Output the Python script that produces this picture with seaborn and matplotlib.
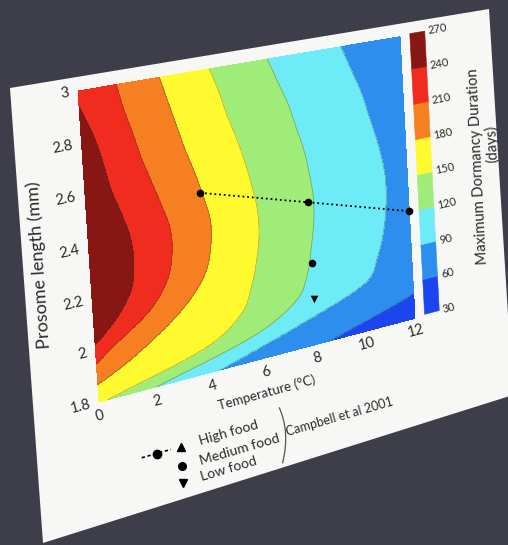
import numpy as np
import matplotlib
matplotlib.use("Agg")
import matplotlib.pyplot as plt
import matplotlib.transforms as mtransforms
import matplotlib.collections as mcoll
from matplotlib.patches import Polygon, PathPatch
from matplotlib.path import Path
from matplotlib.lines import Line2D
import seaborn as sns

# ---------------- data ----------------
levels = [30, 60, 90, 120, 150, 180, 210, 240, 270]
band_colors = ["#1c44ef", "#2e8eee", "#6decf7", "#a0ec78",
               "#fffa30", "#f67f22", "#f02c1f", "#881612"]

lengths = [1.8, 1.9, 2.0, 2.1, 2.2, 2.3, 2.4, 2.5, 2.6, 2.7, 2.8, 2.9, 3.0]
# temperature (deg C) where the dormancy duration crosses 270, 240, ..., 30 days,
# one row per prosome length
crossing_T = [
    [-6.0, -4.5, -3.0, -1.5, 0.3, 2.0, 4.3, 8.5, 14.0],
    [-4.0, -2.2, -0.7, 0.6, 3.8, 5.6, 7.4, 11.8, 16.0],
    [-2.5, -0.3, 0.6, 2.15, 5.2, 7.3, 10.0, 14.0, 18.0],
    [-1.6, 0.75, 1.9, 3.3, 5.65, 7.8, 10.6, 15.0, 19.0],
    [-1.2, 1.35, 2.6, 4.0, 5.9, 8.0, 10.9, 15.5, 20.0],
    [-1.0, 1.5, 2.85, 4.25, 6.05, 8.15, 11.05, 15.8, 20.0],
    [-1.0, 1.45, 2.85, 4.3, 6.05, 8.2, 11.1, 15.8, 20.0],
    [-1.1, 1.2, 2.6, 4.1, 5.9, 8.1, 11.0, 15.5, 20.0],
    [-1.2, 0.9, 2.3, 3.85, 5.7, 7.95, 10.8, 15.0, 19.5],
    [-1.4, 0.7, 2.0, 3.55, 5.45, 7.7, 10.55, 14.5, 19.0],
    [-1.7, 0.48, 1.76, 3.3, 5.15, 7.45, 10.3, 14.0, 18.5],
    [-2.0, 0.15, 1.5, 3.05, 4.9, 7.1, 9.95, 13.5, 18.0],
    [-2.4, -0.2, 1.3, 2.8, 4.6, 6.75, 9.6, 13.0, 17.5],
]
temperature = np.linspace(0, 12, 241)

high_T = [4, 8, 12]
high_L = [2.52, 2.39, 2.26]
medium_T = [8]
medium_L = [2.14]
low_T = [8]
low_L = [1.99]

x_ticks = [0, 2, 4, 6, 8, 10, 12]
y_ticks = [1.8, 2.0, 2.2, 2.4, 2.6, 2.8, 3.0]

legend_labels = ["High food", "Medium food", "Low food"]
source_label = "Campbell et al 2001"

# ---------------- style ----------------
sns.set_theme(style="white")
plt.rcParams["font.family"] = ["Lato", "DejaVu Sans"]

BG = "#3d3e4a"
PAPER = "#f7f7f5"
INK = "#2b2b2b"
W, H = 508, 545


class Projective(mtransforms.Transform):
    """Plane-to-plane perspective mapping in display coordinates."""
    input_dims = 2
    output_dims = 2
    is_separable = False
    has_inverse = True

    def __init__(self, M):
        super().__init__()
        self.M = np.asarray(M, float)

    def transform_non_affine(self, values):
        v = np.asarray(values, float).reshape(-1, 2)
        p = v @ self.M[:, :2].T + self.M[:, 2]
        return p[:, :2] / p[:, 2:3]

    def inverted(self):
        return Projective(np.linalg.inv(self.M))


def homography(src, dst):
    A, b = [], []
    for (X, Y), (x, y) in zip(src, dst):
        A.append([X, Y, 1, 0, 0, 0, -X * x, -Y * x]); b.append(x)
        A.append([0, 0, 0, X, Y, 1, -X * y, -Y * y]); b.append(y)
    h = np.linalg.solve(np.array(A, float), np.array(b, float))
    return np.append(h, 1.0).reshape(3, 3)


def smooth_columns(rows, n_sub):
    """Catmull-Rom resampling of each column of an evenly spaced table."""
    t = np.asarray(rows, float)
    n = len(t)
    tang = np.empty_like(t)
    tang[1:-1] = (t[2:] - t[:-2]) / 2
    tang[0] = t[1] - t[0]
    tang[-1] = t[-1] - t[-2]
    out = []
    for i in range(n - 1):
        for s in np.linspace(0, 1, n_sub, endpoint=False):
            h00 = 2 * s**3 - 3 * s**2 + 1
            h10 = s**3 - 2 * s**2 + s
            h01 = -2 * s**3 + 3 * s**2
            h11 = s**3 - s**2
            out.append(h00 * t[i] + h10 * tang[i] + h01 * t[i + 1] + h11 * tang[i + 1])
    out.append(t[-1])
    out = np.array(out)
    return np.maximum.accumulate(out, axis=1)


fig = plt.figure(figsize=(W / 100, H / 100), dpi=100, facecolor=BG)

# flat layout of the plotting area (display pixels) and where the tilted sheet puts it
X0, Y0, AW, AH = 20, 120, 470, 310
flat_corners = [(X0, Y0 + AH), (X0 + AW, Y0 + AH), (X0 + AW, Y0), (X0, Y0)]
sheet_corners = [(78, H - 91), (400, H - 36.7), (415, H - 318.3), (99, H - 402)]
P = Projective(homography(flat_corners, sheet_corners))

# the sheet of paper
paper = Polygon([(10, H - 88), (489, H - 9), (513, H - 395), (43, H - 543)],
                closed=True, facecolor=PAPER, edgecolor="none",
                transform=mtransforms.IdentityTransform(), zorder=-5)
fig.add_artist(paper)

ax = fig.add_axes([X0 / W, Y0 / H, AW / W, AH / H])

# duration field on the temperature / length grid
n_sub = 8
fine_lengths = np.linspace(lengths[0], lengths[-1], (len(lengths) - 1) * n_sub + 1)
fine_crossings = smooth_columns(crossing_T, n_sub)
Z = np.array([np.interp(temperature, row, levels[::-1]) for row in fine_crossings])
ax.contourf(temperature, fine_lengths, Z, levels=levels, colors=band_colors)
ax.contour(temperature, fine_lengths, Z, levels=levels[1:-1], colors="#3a3a3a",
           linewidths=0.5, alpha=0.45)

sns.lineplot(x=high_T, y=high_L, ax=ax, color="black", linestyle=(0, (1, 1.6)),
             linewidth=1.3, marker="o", markersize=5.5, markeredgewidth=0, sort=False)
sns.scatterplot(x=medium_T, y=medium_L, ax=ax, marker="o", s=30, color="black",
                linewidth=0)
sns.scatterplot(x=low_T, y=low_L, ax=ax, marker="v", s=30, color="black",
                linewidth=0)

ax.set_xlim(0, 12)
ax.set_ylim(1.8, 3.0)
ax.set_axis_off()

warp_data = ax.transData + P
for art in ax.collections:
    if isinstance(art, mcoll.PathCollection):
        art.set_offset_transform(warp_data)
    else:
        art.set_transform(warp_data)
    art.set_clip_on(False)
for line in ax.lines:
    line.set_transform(warp_data)
    line.set_clip_on(False)

# colour bar
cax = fig.add_axes([(X0 + 1.034 * AW) / W, (Y0 + 0.005 * AH) / H,
                    0.052 * AW / W, AH / H])
bars = cax.bar(x=[0.5] * len(band_colors), height=np.diff(levels), bottom=levels[:-1],
               width=1.0, color=band_colors, edgecolor=band_colors, linewidth=0.4)
cax.set_xlim(0, 1)
cax.set_ylim(levels[0], levels[-1])
cax.set_axis_off()
for patch in bars:
    patch.set_transform(cax.transData + P)
    patch.set_clip_on(False)


def warped_text(x, y, s, base, dx=0.0, dy=0.0, size=10, vertical=False, **kw):
    shift = base + mtransforms.Affine2D().translate(dx, dy)
    flat = shift.transform((x, y))
    step = np.array([0.0, 10.0]) if vertical else np.array([10.0, 0.0])
    p0 = P.transform(flat)
    p1 = P.transform(flat + step)
    ang = np.degrees(np.arctan2(p1[1] - p0[1], p1[0] - p0[0]))
    return fig.text(x, y, s, transform=shift + P, rotation=ang,
                    rotation_mode="anchor", fontsize=size, color=INK, **kw)


for t in x_ticks:
    warped_text(t, 1.8, f"{t:g}", ax.transData, dy=-14.5, size=10.5,
                ha="center", va="center")
for v in y_ticks:
    warped_text(0, v, f"{v:g}", ax.transData, dx=-12, size=10.5,
                ha="right", va="center")

warped_text(0.5, -0.12, "Temperature (°C)", ax.transAxes, size=9.5,
            ha="center", va="center")
warped_text(-0.14, 0.48, "Prosome length (mm)", ax.transAxes, size=13,
            vertical=True, ha="center", va="center")

for lev in levels:
    warped_text(1, lev, f"{lev}", cax.transData, dx=6, size=8,
                ha="left", va="center")
warped_text(1.25, 0.49, "Maximum Dormancy Duration", ax.transAxes, size=10.5,
            vertical=True, ha="center", va="center")
warped_text(1.305, 0.56, "(days)", ax.transAxes, size=10.5,
            vertical=True, ha="center", va="center")

# legend block below the axis
warp_axes = ax.transAxes + P
rows = [-0.218, -0.283, -0.340]
fig.add_artist(Line2D([0.111, 0.198], [rows[0], rows[0]], transform=warp_axes,
                      color="black", linewidth=1.2, linestyle=(0, (2, 1.6))))
fig.add_artist(Line2D([0.155], [rows[0]], transform=warp_axes, color="black",
                      marker="o", markersize=6, linestyle="none"))
for marker, row in zip(["^", "o", "v"], rows):
    fig.add_artist(Line2D([0.228], [row], transform=warp_axes, color="black",
                          marker=marker, markersize=5.5, linestyle="none"))
for label, row in zip(legend_labels, rows):
    warped_text(0.282, row, label, ax.transAxes, size=10, ha="left", va="center")

bracket = Path([(0.535, -0.18), (0.566, -0.277), (0.535, -0.374)],
               [Path.MOVETO, Path.CURVE3, Path.CURVE3])
fig.add_artist(PathPatch(bracket, transform=warp_axes, fill=False,
                         edgecolor="#555555", linewidth=0.9))
warped_text(0.552, -0.27, source_label, ax.transAxes, size=9,
            ha="left", va="center")

fig.savefig("out.png", dpi=100, facecolor=BG)
